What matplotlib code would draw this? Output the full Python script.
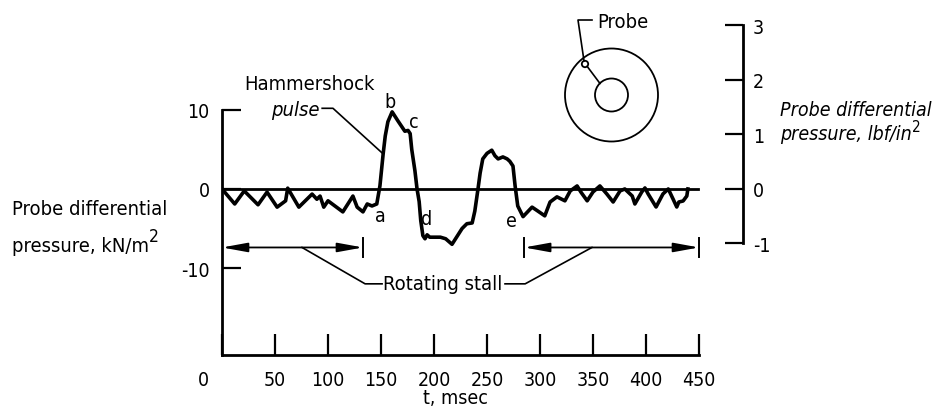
import matplotlib
matplotlib.use('Agg')
import matplotlib.pyplot as plt
from matplotlib.patches import Circle
from matplotlib.patches import ArrowStyle

plt.rcParams['font.family'] = ['DejaVu Sans']
plt.rcParams['font.stretch'] = 'condensed'
plt.rcParams['font.size'] = 14

# ---------------- data ----------------
t_ms = [0, 12, 21, 34, 42.5, 52, 60, 62, 72.5, 85, 89.5, 92.5, 96, 100, 114,
        123.5, 127.5, 133, 137, 141.5, 146, 149, 152, 154, 156.5, 160.5, 166,
        172.5, 175.5, 177.5, 179, 182, 184, 186, 187.5, 189.5, 191.5, 193.5,
        196, 206, 211, 217, 226.5, 231, 236, 238.5, 241.5, 243.5, 246, 250,
        254.5, 257.5, 260.5, 265, 269, 271.5, 274.5, 276.5, 279, 284, 292.5,
        298, 304.5, 309.5, 316, 323.5, 328.5, 335, 338.5, 344.5, 350, 356.5,
        363, 369, 375.5, 380, 387, 389.5, 396, 399, 402, 409.5, 416, 421,
        425.5, 429, 431, 435, 438.5, 439.5]
dp_kn = [0, -1.9, -0.25, -2.0, -0.4, -2.3, -1.5, 0.1, -2.3, -0.65, -1.3, -0.9,
         -2.3, -1.5, -2.9, -0.9, -2.3, -2.9, -1.9, -2.15, -1.9, 0.4, 4.4, 6.7,
         8.5, 9.75, 8.6, 7.3, 7.4, 7.0, 5.0, 2.3, 0.0, -1.6, -4.0, -5.9, -6.3,
         -5.8, -6.1, -6.1, -6.3, -7.0, -5.0, -4.4, -4.3, -2.8, 0.0, 2.0, 3.8,
         4.5, 4.9, 4.2, 3.8, 4.05, 3.8, 3.5, 2.9, 0.4, -2.15, -3.5, -2.3, -2.8,
         -3.4, -1.65, -1.0, -1.5, -0.25, 0.38, -0.38, -1.5, -0.38, 0.38, -0.63,
         -1.65, -0.25, 0.0, -0.89, -1.9, -0.38, 0.13, -0.63, -2.28, -0.63, 0.0,
         -1.27, -2.28, -1.65, -1.52, -0.89, 0.0]
zero_line_ms = [0, 449]
x_ticks = [0, 50, 100, 150, 200, 250, 300, 350, 400, 450]
y_ticks_kn = [10, 0, -10]
y_ticks_psi = [3, 2, 1, 0, -1]
KN_PER_PSI = 6.895

stall_left = [0, 133]
stall_right = [285, 450]
stall_y = -7.4
point_labels = ['a', 'b', 'c', 'd', 'e']
point_t = [149, 158.5, 180.5, 193.5, 273.5]
point_v = [-3.4, 11.0, 8.5, -3.8, -4.05]

# ---------------- figure ----------------
W, H = 942, 410
fig = plt.figure(figsize=(W / 100, H / 100), dpi=100)
fig.patch.set_facecolor('white')
ax = fig.add_axes([222 / W, (H - 356) / H, 521 / W, 340 / H])
ax.set_xlim(0, 491.5)
ax.set_ylim(-21, 22)
ax.patch.set_alpha(0)

ax.plot(t_ms, dp_kn, color='black', lw=2.6, solid_joinstyle='round')
ax.plot(zero_line_ms, [0, 0], color='black', lw=2.0)

for s in ['top', 'right']:
    ax.spines[s].set_visible(False)
ax.spines['left'].set_bounds(-21, 10)
ax.spines['bottom'].set_bounds(0, 450)
ax.spines['left'].set_linewidth(2.0)
ax.spines['bottom'].set_linewidth(2.0)

ax.set_xticks(x_ticks)
ax.set_xticklabels([''] + [str(v) for v in x_ticks[1:]])
ax.tick_params(axis='x', direction='in', length=15, width=1.6, pad=11,
               labelsize=14)
ax.annotate(str(x_ticks[0]), xy=(x_ticks[0], -21), xytext=(-19, -15),
            textcoords='offset pixels', ha='center', va='top', fontsize=14,
            annotation_clip=False)
ax.set_yticks(y_ticks_kn)
ax.set_yticklabels([str(v) for v in y_ticks_kn])
ax.tick_params(axis='y', direction='in', length=13.5, width=1.6, pad=9,
               labelsize=14)
fig.text(455 / W, 1 - 399 / H, 't, msec', ha='center', va='center', fontsize=14)

ax2 = ax.twinx()
lo, hi = ax.get_ylim()
ax2.set_ylim(lo / KN_PER_PSI, hi / KN_PER_PSI)
for s in ['top', 'left', 'bottom']:
    ax2.spines[s].set_visible(False)
ax2.spines['right'].set_bounds(-1, 3)
ax2.spines['right'].set_linewidth(2.0)
ax2.set_yticks(y_ticks_psi)
ax2.set_yticklabels([str(v) for v in y_ticks_psi])
ax2.tick_params(axis='y', direction='in', length=13, width=1.6, pad=7,
                labelsize=14)

# rotating stall arrows
astyle = ArrowStyle('<|-|>', head_length=1.1, head_width=0.2)
for seg in (stall_left, stall_right):
    ax.annotate('', xy=(seg[0], stall_y), xytext=(seg[1], stall_y),
                arrowprops=dict(arrowstyle=astyle, color='black', lw=1.3,
                                shrinkA=0, shrinkB=0, mutation_scale=14))
    ax.plot([seg[1], seg[1]], [stall_y - 1.15, stall_y + 1.15], color='black', lw=1.4)
ax.plot([stall_right[0], stall_right[0]], [stall_y - 1.15, stall_y + 1.15], color='black', lw=1.4)

ax.text(208.5, -11.9, 'Rotating stall', ha='center', va='center', fontsize=14.5)
ax.plot([75.5, 135, 151], [stall_y, -12.0, -12.0], color='black', lw=1.2)
ax.plot([267, 286, 349], [-12.0, -12.0, stall_y], color='black', lw=1.2)

# hammershock pulse label
ax.text(82.5, 13.3, 'Hammershock', ha='center', va='center', fontsize=14.5)
ax.text(69, 10.1, 'pulse', ha='center', va='center', fontsize=14.5, style='italic')
ax.plot([94.5, 104.7, 151.5], [10.2, 10.2, 4.5], color='black', lw=1.2)

for lab, tx, vy in zip(point_labels, point_t, point_v):
    ax.text(tx, vy, lab, ha='center', va='center', fontsize=14)

# axis titles
fig.text(12 / W, 1 - 210 / H, 'Probe differential', ha='left', va='center', fontsize=14.5)
tl = fig.text(12 / W, 1 - 247 / H, 'pressure, kN/m', ha='left', va='center', fontsize=14.5)
ax.annotate('2', xy=(1.0, 0.55), xycoords=tl, ha='left', va='bottom', fontsize=12.5,
            annotation_clip=False)

fig.text(780 / W, 1 - 110 / H, 'Probe differential', ha='left', va='center',
         fontsize=14, style='italic')
tr = fig.text(780 / W, 1 - 135 / H, 'pressure, lbf/in', ha='left', va='center',
              fontsize=14, style='italic')
ax.annotate('2', xy=(1.0, 0.5), xycoords=tr, ha='left', va='bottom', fontsize=11,
            annotation_clip=False)

# probe sketch (inset, pixel-like units, centre of annulus at 0,0)
OUTER_R, INNER_R, HOLE_R = 46.5, 16.5, 3.2
HOLE = (-26.5, -31.0)
axi = fig.add_axes([551.5 / W, (H - 161) / H, 150 / W, 150 / H])
axi.set_xlim(-60, 90)
axi.set_ylim(65, -85)
axi.axis('off')
axi.add_patch(Circle((0, 0), OUTER_R, fill=False, lw=1.3, color='black'))
axi.add_patch(Circle((0, 0), INNER_R, fill=False, lw=1.3, color='black'))
axi.add_patch(Circle(HOLE, HOLE_R, fill=False, lw=1.3, color='black'))
axi.plot([HOLE[0] + 2.2, -11.5], [HOLE[1] + 2.4, -11.5], color='black', lw=1.2)
axi.plot([HOLE[0] - 1.0, -33.5, -19.5], [HOLE[1] - 3.2, -75, -75], color='black', lw=1.2)
axi.text(-14.5, -74, 'Probe', ha='left', va='center', fontsize=14.5)

fig.savefig('out.png', dpi=100, facecolor='white')
